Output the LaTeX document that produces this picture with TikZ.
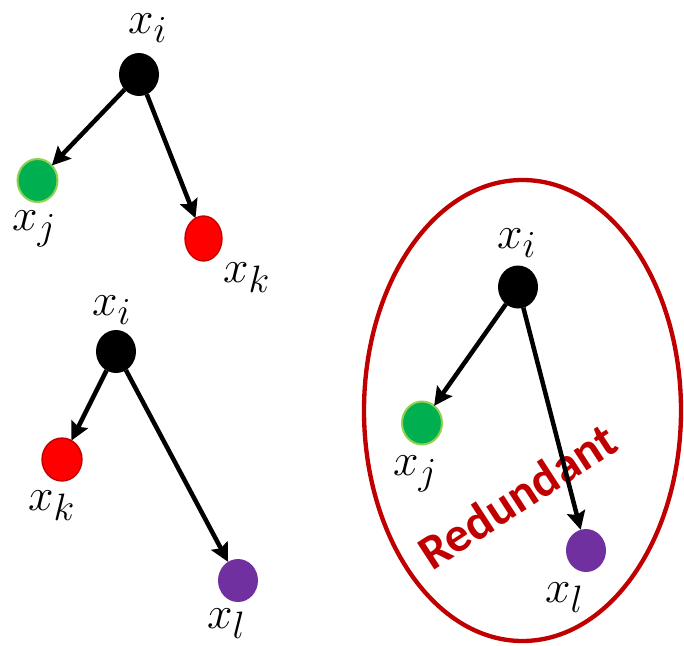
\documentclass[tikz,border=0pt]{standalone}
\usepackage{graphicx}
\usepackage{fontspec}
\newfontfamily\tagfont{Carlito}
\usetikzlibrary{arrows.meta,shapes.geometric}
\definecolor{darkred}{HTML}{C00000}
\definecolor{leafgreen}{HTML}{00B050}
\definecolor{lightgreen}{HTML}{92D050}
\definecolor{plum}{HTML}{7030A0}
\newcommand{\vlab}[1]{\scalebox{1.57}{\Huge$#1$}}
\tikzset{
  vertex/.style={ellipse,minimum width=1.2cm,minimum height=1.29cm,inner sep=0pt,outer sep=0pt},
  lab/.style={anchor=base west,inner sep=0pt},
  edge/.style={line width=0.135cm,-{Stealth[length=0.55cm,width=0.55cm,inset=0.09cm]}}
}
\begin{document}
\begin{tikzpicture}[x=0.03cm,y=-0.03cm]
\useasboundingbox (0,0) rectangle (684,645);

\node[vertex,fill=black] (xi1) at (139,74.5) {};
\node[vertex,fill=leafgreen,draw=lightgreen,line width=0.06cm] (xj1) at (37.5,180.5) {};
\node[vertex,fill=red,draw=darkred,line width=0.04cm,minimum width=1.11cm,minimum height=1.35cm] (xk1) at (203.5,238.5) {};
\node[lab] (lxi1) at (128,33) {\vlab{x_i}};
\node[lab] (lxj1) at (12,230) {\vlab{x_j}};
\node[lab] (lxk1) at (223,282) {\vlab{x_k}};
\draw[edge] (xi1) -- (xj1);
\draw[edge] (xi1) -- (xk1);

\node[vertex,fill=black] (xi2) at (116,351.5) {};
\node[vertex,fill=red,draw=darkred,line width=0.04cm] (xk2) at (62,459.5) {};
\node[vertex,fill=plum] (xl2) at (238,580.5) {};
\node[lab] (lxi2) at (92,315) {\vlab{x_i}};
\node[lab] (lxk2) at (28,510) {\vlab{x_k}};
\node[lab] (lxl2) at (207,628) {\vlab{x_l}};
\draw[edge] (xi2) -- (xk2);
\draw[edge] (xi2) -- (xl2);

\draw[darkred,line width=0.13cm] (522.5,410.5) ellipse [x radius=158.5,y radius=230.5];
\node[darkred,rotate=33,font=\tagfont\bfseries\fontsize{42}{42}\selectfont] (tag) at (517,496) {Redundant};
\node[vertex,fill=black] (xi3) at (518,287) {};
\node[vertex,fill=leafgreen,draw=lightgreen,line width=0.06cm] (xj3) at (422,423) {};
\node[vertex,fill=plum] (xl3) at (586,550.5) {};
\node[lab] (lxi3) at (497,248) {\vlab{x_i}};
\node[lab] (lxj3) at (393,475) {\vlab{x_j}};
\node[lab] (lxl3) at (545,602) {\vlab{x_l}};
\draw[edge] (xi3) -- (xj3);
\draw[edge] (xi3) -- (xl3);
\end{tikzpicture}
\end{document}
